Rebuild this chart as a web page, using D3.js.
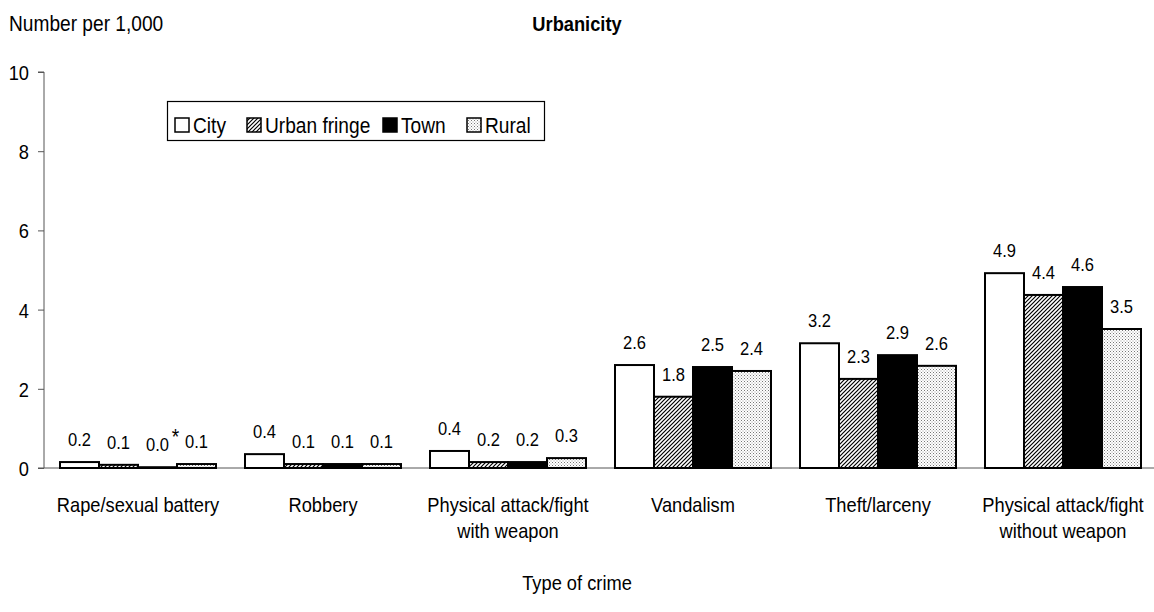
<!DOCTYPE html>
<html><head><meta charset="utf-8">
<script src="https://cdn.jsdelivr.net/npm/d3@7"></script>
<style>
body{margin:0;background:#fff;}
text{font-family:"Liberation Sans",Arial,sans-serif;fill:#000;}
</style></head>
<body><svg id="c" width="1154" height="612"></svg>
<script>
const categories = [["Rape/sexual battery"],["Robbery"],["Physical attack/fight","with weapon"],["Vandalism"],["Theft/larceny"],["Physical attack/fight","without weapon"]];
const seriesNames = ["City","Urban fringe","Town","Rural"];
const city   = [0.15, 0.35, 0.43, 2.6, 3.15, 4.92];
const fringe = [0.08, 0.1, 0.15, 1.8, 2.25, 4.37];
const town   = [0.02, 0.1, 0.15, 2.55, 2.85, 4.57];
const rural  = [0.1, 0.1, 0.25, 2.45, 2.58, 3.51];
const cityLabels   = ["0.2","0.4","0.4","2.6","3.2","4.9"];
const fringeLabels = ["0.1","0.1","0.2","1.8","2.3","4.4"];
const townLabels   = ["0.0","0.1","0.2","2.5","2.9","4.6"];
const ruralLabels  = ["0.1","0.1","0.3","2.4","2.6","3.5"];
const yTicks = [0,2,4,6,8,10];

const series = [city, fringe, town, rural];
const labels = [cityLabels, fringeLabels, townLabels, ruralLabels];
const SX = 0.87; // narrow font emulation

const svg = d3.select("#c");
function txt(parent, x, y, s, size, anchor, bold){
  return parent.append("text").attr("transform",`translate(${x},${y}) scale(${SX},1)`)
    .attr("text-anchor",anchor||"start").style("font-size",size+"px")
    .style("font-weight",bold?"bold":"normal").text(s);
}

const defs = svg.append("defs");
const hatch = defs.append("pattern").attr("id","hatch").attr("patternUnits","userSpaceOnUse")
  .attr("width",4).attr("height",4);
hatch.append("rect").attr("width",4).attr("height",4).attr("fill","#fff");
hatch.append("path").attr("d","M-1,1 l2,-2 M0,4 l4,-4 M3,5 l2,-2").attr("stroke","#000").attr("stroke-width",1.2);
const dots = defs.append("pattern").attr("id","dots").attr("patternUnits","userSpaceOnUse")
  .attr("width",3).attr("height",3);
dots.append("rect").attr("width",3).attr("height",3).attr("fill","#fff");
dots.append("rect").attr("x",0).attr("y",0).attr("width",1).attr("height",1).attr("fill","#777");
dots.append("rect").attr("x",1.5).attr("y",1.5).attr("width",1).attr("height",1).attr("fill","#999");
const fills = ["#fff","url(#hatch)","#000","url(#dots)"];

const x0 = d3.scaleBand().domain(d3.range(categories.length)).range([45.5,1155.5]).paddingInner(0).paddingOuter(0);
const x1 = d3.scaleBand().domain(d3.range(4)).range([14.5, 185-14.5]).padding(0);
const y = d3.scaleLinear().domain([0,10]).range([468,72]);

// y axis
const yAx = svg.append("g").attr("transform","translate(44,0)")
  .call(d3.axisLeft(y).tickValues(yTicks).tickSize(6).tickFormat(d3.format("d")));
yAx.select(".domain").attr("stroke","#555").attr("d","M-6,72H0V468H-6");
yAx.selectAll(".tick line").attr("stroke","#555");
yAx.selectAll(".tick text").attr("x",-15/SX).attr("transform",`scale(${SX},1)`)
  .style("font-size","21px").style("font-family",null).attr("dy","0.36em");

// x axis line
svg.append("line").attr("x1",44).attr("x2",1154).attr("y1",468).attr("y2",468).attr("stroke","#555").attr("stroke-width",1);

// bars
const g = svg.append("g");
series.forEach((vals,si)=>{
  vals.forEach((v,ci)=>{
    const bx = x0(ci)+x1(si);
    g.append("rect").attr("x",bx).attr("y",y(v)).attr("width",x1.bandwidth()).attr("height",y(0)-y(v))
      .attr("fill",fills[si]).attr("stroke","#000").attr("stroke-width",2);
    txt(g, bx+x1.bandwidth()/2, y(v)-16, labels[si][ci], 19, "middle");
  });
});
// asterisk for town 0.0
txt(svg, x0(0)+x1(2)+x1.bandwidth()/2+18, y(town[0])-23, "*", 22, "middle");

// category labels
categories.forEach((lines,ci)=>{
  lines.forEach((l,i)=>txt(svg, x0(ci)+x0.bandwidth()/2, 512+i*26, l, 21, "middle"));
});

// titles
txt(svg, 9, 31, "Number per 1,000", 22, "start");
txt(svg, 577, 31, "Urbanicity", 21, "middle", true);
txt(svg, 577, 590, "Type of crime", 21, "middle");

// legend
const lg = svg.append("g");
lg.append("rect").attr("x",167.5).attr("y",101.5).attr("width",377).attr("height",39).attr("fill","#fff").attr("stroke","#000").attr("stroke-width",1.2);
const legX = [175, 247, 383, 467];
seriesNames.forEach((n,i)=>{
  lg.append("rect").attr("x",legX[i]).attr("y",118).attr("width",14).attr("height",14)
    .attr("fill",fills[i]).attr("stroke","#000").attr("stroke-width",1.5);
  txt(lg, legX[i]+18, 133, n, 22, "start");
});
</script></body></html>
